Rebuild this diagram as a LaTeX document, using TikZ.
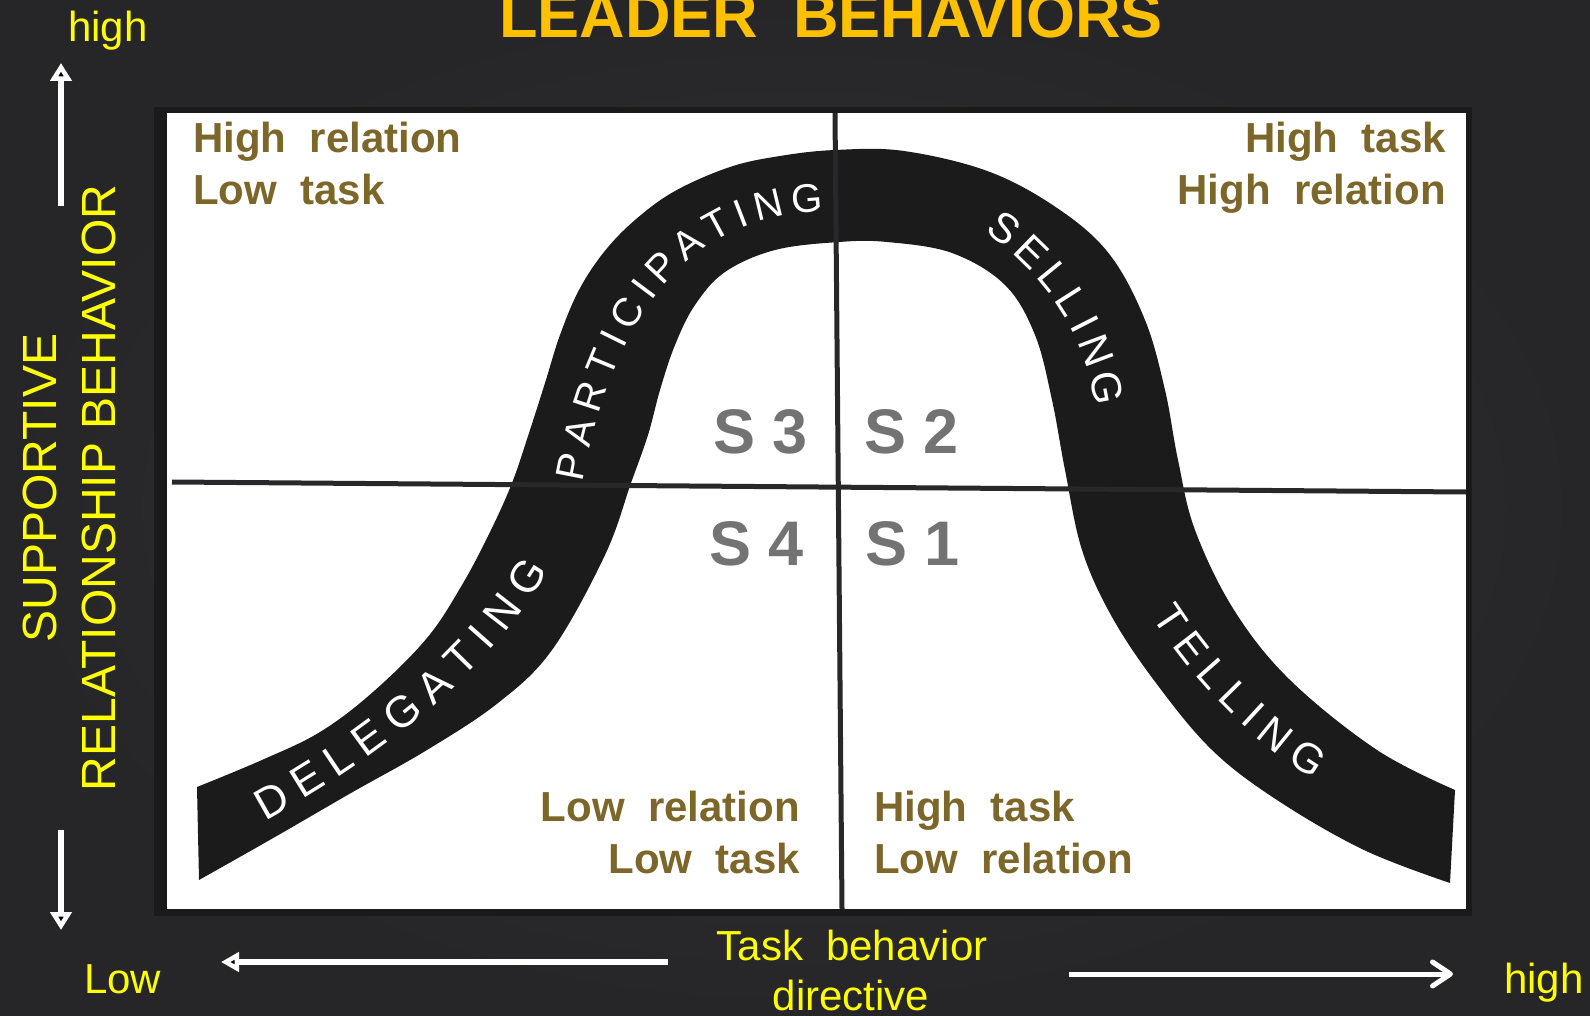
\documentclass[tikz,border=0pt]{standalone}
\usepackage{fontspec}
\setmainfont{Liberation Sans}
\usetikzlibrary{arrows.meta,decorations.text}
\definecolor{bgin}{RGB}{52,52,54}
\definecolor{bgout}{RGB}{38,38,40}
\definecolor{framec}{RGB}{26,26,27}
\definecolor{bandc}{RGB}{27,27,27}
\definecolor{divc}{RGB}{40,40,42}
\definecolor{olive}{RGB}{124,102,42}
\definecolor{sgray}{RGB}{115,115,115}
\definecolor{gold}{RGB}{255,192,0}
\definecolor{ylw}{RGB}{255,255,0}
\newcommand\qfont{\bfseries\fontsize{42pt}{42pt}\selectfont}
\newcommand\sfontbig{\bfseries\fontsize{63pt}{63pt}\selectfont}
\newcommand\yfont{\fontsize{42pt}{42pt}\selectfont}
\newcommand\axfont{\fontsize{48pt}{48pt}\selectfont}
\newcommand\titlefont{\bfseries\fontsize{63pt}{63pt}\selectfont}
\newcommand\bandA{\fontsize{40pt}{40pt}\selectfont}
\newcommand\bandB{\fontsize{42pt}{42pt}\selectfont}
\newcommand\bandC{\fontsize{44pt}{44pt}\selectfont}
\begin{document}
\begin{tikzpicture}[x=1pt,y=-1pt,
  quad/.style={inner sep=0pt, text=olive, font=\qfont},
  slabel/.style={inner sep=0pt, text=sgray, font=\sfontbig},
  ytext/.style={inner sep=0pt, text=ylw, font=\yfont},
  axtext/.style={inner sep=0pt, text=ylw, font=\axfont, rotate=90, anchor=base},
  divider/.style={draw=divc, line width=5pt},
  whitearrow/.style={draw=white, line width=5.5pt},
  bandword/.style={decorate, decoration={text along path, text color=white, text align={fit to path}, raise=-15pt}}
]
\useasboundingbox (0,0) rectangle (1590,1016);
\shade[inner color=bgin, outer color=bgout] (0,0) rectangle (1590,1016);

% panel
\fill[framec] (154,107) rectangle (1472,916);
\fill[white] (167,113) rectangle (1466,909);

% band
\fill[bandc] plot[smooth, tension=0.6] coordinates {(197,787) (262,760) (320,732) (373,692) (427,638) (462,585) (490,532) (512,483) (529,433) (545,383) (560,335) (579,290) (604,252) (635,220) (675,191) (730,167) (780,156) (835,150) (904,151) (990,172) (1060,210) (1110,255) (1145,320) (1165,390) (1178,460) (1195,530) (1234,610) (1290,680) (1377,750) (1455,790)}
 -- plot[smooth, tension=0.6] coordinates {(1450,883) (1364,850) (1277,800) (1212,750) (1156,683) (1112,617) (1082,550) (1065,470) (1052,400) (1035,335) (1005,285) (952,253) (887,242) (839,242) (775,250) (725,272) (695,305) (675,345) (660,390) (648,435) (631,483) (605,555) (552,650) (498,703) (427,750) (351,793) (275,837) (199,880)} -- cycle;

% band words
\path[bandword, decoration={text={|\bandA|PARTICIPATING}}] (568,480) .. controls (595,330) and (665,200) .. (822,197);
\path[bandword, decoration={text={|\bandB|SELLING}}] (993,220) .. controls (1045,255) and (1100,320) .. (1110,404);
\path[bandword, decoration={text={|\bandC|DELEGATING}}] (258,808) .. controls (360,752) and (475,668) .. (536,562);
\path[bandword, decoration={text={|\bandB|TELLING}}] (1164,608) .. controls (1200,665) and (1260,730) .. (1322,766);

% dividers
\coordinate (hL) at (172,482);
\coordinate (hR) at (1466,492);
\coordinate (vT) at (835,113);
\coordinate (vB) at (842,909);
\draw[divider] (hL) -- (hR);
\draw[divider] (vT) -- (vB);

% quadrant labels
\node[quad, anchor=base west] (tl1) at (193,153) {High\ \ relation};
\node[quad, anchor=base west] (tl2) at (193,205) {Low\ \ task};
\node[quad, anchor=base east] (tr1) at (1446,153) {High\ \ task};
\node[quad, anchor=base east] (tr2) at (1446,205) {High\ \ relation};
\node[quad, anchor=base east] (bl1) at (800,821) {Low\ \ relation};
\node[quad, anchor=base east] (bl2) at (800,873) {Low\ \ task};
\node[quad, anchor=base west] (br1) at (874,821) {High\ \ task};
\node[quad, anchor=base west] (br2) at (874,873) {Low\ \ relation};

% S labels
\node[slabel, anchor=base east] (s3) at (808,453) {S 3};
\node[slabel, anchor=base west] (s2) at (864,453) {S 2};
\node[slabel, anchor=base east] (s4) at (804,565) {S 4};
\node[slabel, anchor=base west] (s1) at (865,565) {S 1};

% title
\node[inner sep=0pt, text=gold, font=\titlefont, anchor=base] (title) at (831,38) {LEADER\ \ BEHAVIORS};

% vertical axis
\node[ytext, anchor=base west] (hightop) at (68,42) {high};
\node[axtext] (supp) at (56,488) {SUPPORTIVE};
\node[axtext] (relb) at (115,488) {RELATIONSHIP BEHAVIOR};
\coordinate (upA) at (61,206);
\coordinate (upB) at (61,63);
\coordinate (dnA) at (61,830);
\coordinate (dnB) at (61,930);
\draw[whitearrow, -{Triangle[width=21pt,length=18pt]}] (upA) -- (upB);
\draw[whitearrow, -{Triangle[width=21pt,length=18pt]}] (dnA) -- (dnB);

% horizontal axis
\node[ytext, anchor=base west] (lowbot) at (84,993) {Low};
\node[ytext, anchor=base west] (highbot) at (1504,993) {high};
\node[ytext, anchor=base] (taskb) at (852,960) {Task\ \ behavior};
\node[ytext, anchor=base] (direct) at (851,1010) {directive};
\coordinate (lA) at (668,962);
\coordinate (lB) at (221,962);
\coordinate (rA) at (1069,974);
\coordinate (rB) at (1453,974);
\draw[whitearrow, -{Triangle[width=19pt,length=18pt]}] (lA) -- (lB);
\draw[whitearrow, line width=5pt, -{Straight Barb[length=18pt,width=24pt,round]}] (rA) -- (rB);
\end{tikzpicture}
\end{document}
